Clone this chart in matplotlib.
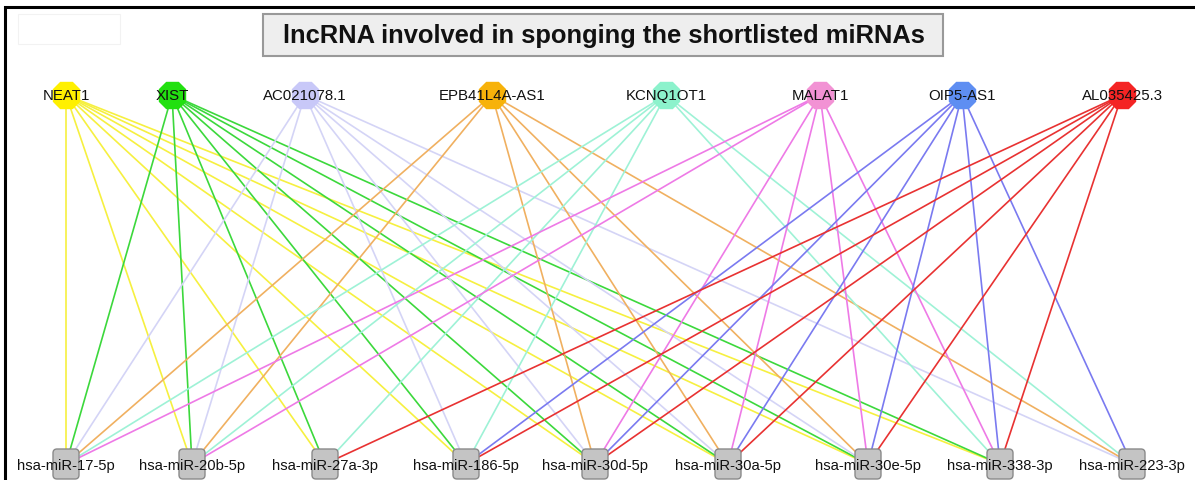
import matplotlib
matplotlib.use("Agg")
import matplotlib.pyplot as plt
from matplotlib.patches import FancyBboxPatch, Rectangle

plt.rcParams['font.family'] = ['Liberation Sans', 'DejaVu Sans']

# ---- data ----
lncrnas = ["NEAT1", "XIST", "AC021078.1", "EPB41L4A-AS1", "KCNQ1OT1",
           "MALAT1", "OIP5-AS1", "AL035425.3"]
mirnas = ["hsa-miR-17-5p", "hsa-miR-20b-5p", "hsa-miR-27a-3p", "hsa-miR-186-5p",
          "hsa-miR-30d-5p", "hsa-miR-30a-5p", "hsa-miR-30e-5p", "hsa-miR-338-3p",
          "hsa-miR-223-3p"]
edges_neat1 = ["hsa-miR-17-5p", "hsa-miR-20b-5p", "hsa-miR-27a-3p", "hsa-miR-186-5p",
               "hsa-miR-30d-5p", "hsa-miR-30a-5p", "hsa-miR-30e-5p", "hsa-miR-338-3p"]
edges_xist = ["hsa-miR-17-5p", "hsa-miR-20b-5p", "hsa-miR-27a-3p", "hsa-miR-186-5p",
              "hsa-miR-30d-5p", "hsa-miR-30a-5p", "hsa-miR-30e-5p", "hsa-miR-338-3p"]
edges_ac021078 = ["hsa-miR-17-5p", "hsa-miR-20b-5p", "hsa-miR-186-5p", "hsa-miR-30d-5p",
                  "hsa-miR-30a-5p", "hsa-miR-30e-5p", "hsa-miR-223-3p"]
edges_epb41l4a = ["hsa-miR-17-5p", "hsa-miR-20b-5p", "hsa-miR-30d-5p", "hsa-miR-30a-5p",
                  "hsa-miR-30e-5p", "hsa-miR-223-3p"]
edges_kcnq1ot1 = ["hsa-miR-17-5p", "hsa-miR-20b-5p", "hsa-miR-27a-3p", "hsa-miR-186-5p",
                  "hsa-miR-338-3p", "hsa-miR-223-3p"]
edges_malat1 = ["hsa-miR-17-5p", "hsa-miR-20b-5p", "hsa-miR-30d-5p", "hsa-miR-30a-5p",
                "hsa-miR-30e-5p", "hsa-miR-338-3p"]
edges_oip5 = ["hsa-miR-186-5p", "hsa-miR-30d-5p", "hsa-miR-30a-5p", "hsa-miR-30e-5p",
              "hsa-miR-338-3p", "hsa-miR-223-3p"]
edges_al035425 = ["hsa-miR-27a-3p", "hsa-miR-186-5p", "hsa-miR-30d-5p", "hsa-miR-30a-5p",
                  "hsa-miR-30e-5p", "hsa-miR-338-3p"]
edge_lists = [edges_neat1, edges_xist, edges_ac021078, edges_epb41l4a,
              edges_kcnq1ot1, edges_malat1, edges_oip5, edges_al035425]
title = "lncRNA involved in sponging the shortlisted miRNAs"

# ---- layout / style ----
top_x = [66, 172, 305, 492, 666, 820, 962, 1122]
top_y = 96
bot_x = [66, 192, 325, 466, 595, 728, 868, 1000, 1132]
bot_y = 465
node_colors = ["#fff000", "#22e010", "#c8c8f8", "#f7b20a", "#8cf2cc",
               "#f292d4", "#5e8ef2", "#f42424"]
edge_colors = ["#f6f040", "#3cd83c", "#d4d4f6", "#f0b060", "#9ef2d6",
               "#ee7ae6", "#7a7af0", "#e83232"]

W, H = 1195, 481
fig = plt.figure(figsize=(W / 100, H / 100), dpi=100)
ax = fig.add_axes([0, 0, 1, 1])
ax.set_xlim(0, W)
ax.set_ylim(H, 0)
ax.axis("off")

# outer frame (left + top)
ax.plot([5, 5, 1193], [H + 5, 8, 8], color="black", lw=2.2, zorder=1,
        solid_joinstyle="miter")

# faint box at top-left
ax.add_patch(Rectangle((18, 15), 102, 30, fill=False, ec="#f2f2f2", lw=0.8, zorder=1))

# edges
for i, lst in enumerate(edge_lists):
    for m in lst:
        j = mirnas.index(m)
        ax.plot([top_x[i], bot_x[j]], [top_y, bot_y], color=edge_colors[i],
                lw=1.2, zorder=2, solid_capstyle="round")

# top nodes (octagons)
for i, name in enumerate(lncrnas):
    ax.plot(top_x[i], top_y, marker="8", markersize=21, color=node_colors[i],
            markeredgecolor=node_colors[i], zorder=3)
    ax.text(top_x[i], top_y, name, ha="center", va="center", fontsize=10.8,
            color="#111111", zorder=5)

# bottom nodes (rounded squares)
for j, name in enumerate(mirnas):
    ax.add_patch(FancyBboxPatch((bot_x[j] - 11, bot_y - 13), 22, 26,
                                boxstyle="round,pad=2,rounding_size=4",
                                fc="#c4c4c4", ec="#8a8a8a", lw=1.0, zorder=3))
    ax.text(bot_x[j], bot_y + 1, name, ha="center", va="center", fontsize=10.6,
            color="#111111", zorder=5)

# title box
ax.add_patch(Rectangle((263, 15), 680, 42, fc="#eeeeee", ec="#999999", lw=1.5, zorder=4))
ax.text(604, 36, title, ha="center", va="center", fontsize=18.4,
        fontweight="bold", color="#111111", zorder=5)

fig.savefig("out.png", dpi=100)
